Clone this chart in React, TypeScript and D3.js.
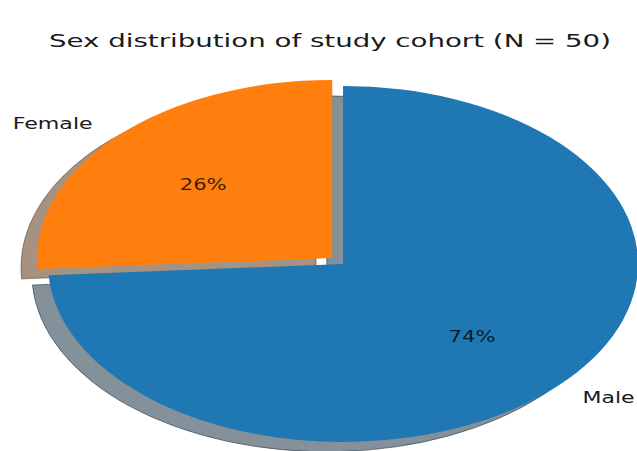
import React from "react";
import * as d3 from "d3";

const categories = ["Male", "Female"];
const counts = [37, 13];
const explodes = [0, 0.05];
const colors = ["#1f77b4", "#ff7f0e"];
const pctLabels = ["74%", "26%"];
const titleText = "Sex distribution of study cohort (N = 50)";

const W = 637;
const H = 451;
const CX = 343;
const CY = 264;
const R = 178;
const SX = 295 / 178;
const SHADOW = 0.055;
const FONT = "'DejaVu Sans', Verdana, sans-serif";

export default function App() {
  const pie = d3
    .pie<number>()
    .sort(null)
    .startAngle(0)
    .endAngle(2 * Math.PI)
    .value((d) => d);
  const arcs = pie(counts);
  const arcGen = d3.arc<d3.PieArcDatum<number>>().innerRadius(0).outerRadius(R);

  const items = arcs.map((a, i) => {
    const m = (a.startAngle + a.endAngle) / 2;
    const dx = Math.sin(m);
    const dy = -Math.cos(m);
    const e = explodes[i];
    const wx = CX + e * R * SX * dx;
    const wy = CY + e * R * dy;
    return {
      a,
      i,
      dx,
      dy,
      wx,
      wy,
      path: arcGen(a) as string,
      labelX: wx + 1.1 * R * SX * dx,
      labelY: wy + 1.1 * R * dy,
      pctX: wx + 0.6 * R * SX * dx,
      pctY: wy + 0.6 * R * dy,
    };
  });

  const shadowFill = (c: string) => {
    const rgb = d3.rgb(c);
    return d3.rgb(rgb.r * 0.3, rgb.g * 0.3, rgb.b * 0.3).formatHex();
  };

  const labelWidths = [52, 80];

  return (
    <svg
      width={W}
      height={H}
      style={{ position: "absolute", left: 0, top: 0, background: "#fff" }}
      fontFamily={FONT}
    >
      <rect x={0} y={0} width={W} height={H} fill="#fff" />
      <text
        x={330}
        y={47}
        textAnchor="middle"
        fontSize={18}
        fill="#1a1a1a"
        textLength={562}
        lengthAdjust="spacingAndGlyphs"
      >
        {titleText}
      </text>
      {items.map((it) => (
        <g
          key={"s" + it.i}
          transform={`translate(${it.wx - SHADOW * R * SX},${it.wy + SHADOW * R}) scale(${SX},1)`}
        >
          <path
            d={it.path}
            fill={shadowFill(colors[it.i])}
            fillOpacity={0.5}
            stroke={shadowFill(colors[it.i])}
            strokeOpacity={0.5}
            strokeWidth={1}
            vectorEffect="non-scaling-stroke"
          />
        </g>
      ))}
      {items.map((it) => (
        <g key={"w" + it.i} transform={`translate(${it.wx},${it.wy}) scale(${SX},1)`}>
          <path d={it.path} fill={colors[it.i]} />
        </g>
      ))}
      {items.map((it) => (
        <text
          key={"l" + it.i}
          x={it.dx < 0 ? it.labelX - 3 : it.labelX + 3}
          y={it.labelY}
          dy="0.35em"
          textAnchor={it.dx < 0 ? "end" : "start"}
          fontSize={15}
          fill="#1a1a1a"
          textLength={labelWidths[it.i]}
          lengthAdjust="spacingAndGlyphs"
        >
          {categories[it.i]}
        </text>
      ))}
      {items.map((it) => (
        <text
          key={"p" + it.i}
          x={it.pctX}
          y={it.pctY}
          dy="0.35em"
          textAnchor="middle"
          fontSize={15}
          fill="#000"
          fillOpacity={0.78}
          textLength={47}
          lengthAdjust="spacingAndGlyphs"
        >
          {pctLabels[it.i]}
        </text>
      ))}
    </svg>
  );
}
